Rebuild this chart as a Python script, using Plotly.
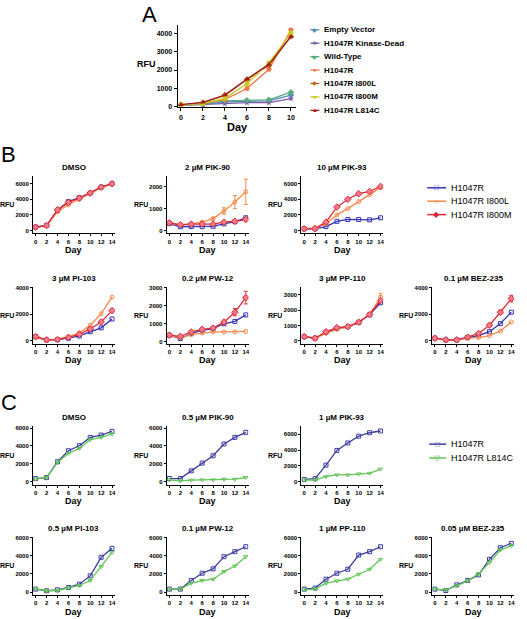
import plotly.graph_objects as go

# ---------------- data ----------------
days_a = [0, 2, 4, 6, 8, 10]
a_names = ["Empty Vector", "H1047R Kinase-Dead", "Wild-Type", "H1047R",
           "H1047R I800L", "H1047R I800M", "H1047R L814C"]
a_empty_vector = [60, 120, 250, 280, 300, 620]
a_kinase_dead = [50, 100, 150, 200, 200, 420]
a_wild_type = [70, 140, 300, 330, 360, 780]
a_h1047r = [80, 170, 380, 980, 2040, 4200]
a_i800l = [80, 200, 620, 1480, 2260, 3850]
a_i800m = [70, 160, 440, 1240, 2400, 4050]
a_l814c = [90, 220, 620, 1510, 2310, 3850]

days = [0, 2, 4, 6, 8, 10, 12, 14]

b_names = ["H1047R", "H1047R I800L", "H1047R I800M"]
b_titles = ["DMSO", "2 µM PIK-90", "10 µM PIK-93", "3 µM PI-103",
            "0.2 µM PW-12", "3 µM PP-110", "0.1 µM BEZ-235"]
b_dmso_h1047r = [450, 650, 2600, 3700, 4200, 4800, 5550, 6000]
b_dmso_i800l = [400, 600, 2400, 3300, 4000, 4750, 5500, 5950]
b_dmso_i800m = [430, 640, 2650, 3600, 4150, 4800, 5550, 6000]
b_pik90_h1047r = [310, 170, 180, 170, 190, 300, 400, 580]
b_pik90_i800l = [340, 240, 300, 380, 540, 890, 1300, 1770]
b_pik90_i800m = [350, 260, 290, 290, 290, 380, 420, 500]
b_pik93_h1047r = [210, 220, 510, 1180, 1420, 1420, 1370, 1630]
b_pik93_i800l = [250, 330, 850, 2000, 2800, 3700, 4600, 5500]
b_pik93_i800m = [220, 250, 1070, 3000, 4000, 4720, 5000, 5650]
b_pi103_h1047r = [320, 60, 90, 200, 370, 690, 980, 1650]
b_pi103_i800l = [250, 50, 130, 320, 610, 1180, 2040, 3310]
b_pi103_i800m = [320, 80, 100, 260, 490, 900, 1420, 2280]
b_pw12_h1047r = [360, 180, 450, 640, 730, 1000, 1130, 1490]
b_pw12_i800l = [360, 220, 400, 490, 545, 545, 550, 580]
b_pw12_i800m = [370, 300, 550, 690, 760, 1090, 1640, 2450]
b_pp110_h1047r = [270, 170, 550, 820, 920, 1200, 1700, 2480]
b_pp110_i800l = [290, 170, 490, 750, 900, 1200, 1750, 2850]
b_pp110_i800m = [280, 170, 600, 860, 930, 1220, 1710, 2630]
b_bez_h1047r = [200, 70, 70, 250, 390, 690, 1300, 2160]
b_bez_i800l = [170, 50, 60, 200, 250, 390, 740, 1420]
b_bez_i800m = [200, 80, 80, 280, 560, 1180, 2160, 3190]
b_pik90_err_i800l = [0, 0, 0, 0, 60, 150, 300, 580]
b_pw12_err_i800m = [0, 0, 0, 0, 0, 100, 200, 350]
b_pp110_err_i800l = [0, 0, 0, 0, 0, 0, 0, 250]
b_bez_err_i800m = [0, 0, 0, 0, 0, 0, 150, 250]

c_names = ["H1047R", "H1047R L814C"]
c_titles = ["DMSO", "0.5 µM PIK-90", "1 µM PIK-93", "0.5 µM PI-103",
            "0.1 µM PW-12", "1 µM PP-110", "0.05 µM BEZ-235"]
c_dmso_h1047r = [370, 480, 2240, 3470, 4030, 4960, 5220, 5630]
c_dmso_l814c = [330, 480, 2200, 3170, 3730, 4700, 4960, 5340]
c_pik90_h1047r = [370, 370, 1230, 2090, 2910, 4220, 4960, 5520]
c_pik90_l814c = [220, 110, 190, 220, 220, 300, 300, 490]
c_pik93_h1047r = [300, 390, 2100, 3950, 4890, 5750, 6180, 6400]
c_pik93_l814c = [210, 210, 640, 860, 860, 990, 1070, 1590]
c_pi103_h1047r = [330, 150, 250, 510, 870, 1780, 3820, 4800]
c_pi103_l814c = [360, 150, 180, 440, 730, 1270, 2800, 4360]
c_pw12_h1047r = [330, 330, 1270, 2070, 2550, 3890, 4440, 4980]
c_pw12_l814c = [330, 330, 980, 1270, 1420, 2250, 2870, 3890]
c_pp110_h1047r = [330, 440, 1420, 2070, 2510, 4070, 4440, 4980]
c_pp110_l814c = [250, 330, 980, 1240, 1420, 1960, 2510, 3600]
c_bez_h1047r = [330, 180, 800, 1270, 1890, 3600, 4870, 5350]
c_bez_l814c = [330, 250, 690, 1240, 2000, 3240, 4620, 5090]

# ---------------- styles ----------------
W, H = 527, 619
FAM = "Liberation Sans, Arial, Helvetica, sans-serif"

a_colors = ["#4f8dbd", "#7b5aa9", "#5aab7c", "#f07444", "#b8661c", "#c6cb22", "#a41a1a"]
a_symbols = ["diamond", "star", "diamond", "circle", "diamond", "circle", "triangle-up"]
a_glyphs = ["◆", "★", "◆", "●", "◆", "●", "▲"]

b_colors = ["#3434b4", "#f58a4b", "#e02a3a"]
b_fill = ["rgba(0,0,0,0)", "rgba(0,0,0,0)", "#f07a86"]
b_symbols = ["square-open", "circle-open", "diamond"]
b_glyphs = ["□", "○", "◆"]

c_colors = ["#3c3c9e", "#62c656"]
c_symbols = ["square-open", "triangle-down-open"]
c_glyphs = ["□", "▽"]


def px(x):
    return x / W


def py(y):
    return 1 - y / H


fig = go.Figure()
layout = dict(width=W, height=H, margin=dict(l=0, r=0, t=0, b=0),
              paper_bgcolor="white", plot_bgcolor="white", showlegend=False,
              font=dict(family=FAM, color="black"))
annotations = []
shapes = []


def ann(text, x, y, size, bold=True, xanchor="center", color="black", yanchor="middle"):
    annotations.append(dict(text=text, x=px(x), y=py(y), xref="paper", yref="paper",
                            showarrow=False, xanchor=xanchor, yanchor=yanchor,
                            font=dict(size=size, family=FAM, color=color,
                                      weight="bold" if bold else "normal")))


def add_axes(n, x0, x1, ytop, ybot, xr, yr, xt, yt, tfs, tl=3):
    xk = "xaxis" if n == 1 else f"xaxis{n}"
    yk = "yaxis" if n == 1 else f"yaxis{n}"
    common = dict(ticks="outside", ticklen=tl, tickwidth=1, tickcolor="black",
                  showline=True, linecolor="black", linewidth=1, showgrid=False,
                  zeroline=False, fixedrange=True,
                  tickfont=dict(size=tfs, family=FAM, color="black", weight="bold"))
    layout[xk] = dict(domain=[px(x0), px(x1)], anchor="y" if n == 1 else f"y{n}",
                      range=xr, tickvals=xt, **common)
    layout[yk] = dict(domain=[py(ybot), py(ytop)], anchor="x" if n == 1 else f"x{n}",
                      range=yr, tickvals=yt, **common)
    return ("x" if n == 1 else f"x{n}"), ("y" if n == 1 else f"y{n}")


# ---------------- panel A ----------------
xa, ya = add_axes(1, 178, 297, 23, 106, [-0.3, 10.5], [-55, 4490],
                  days_a, [0, 1000, 2000, 3000, 4000], 7)
a_values = [a_empty_vector, a_kinase_dead, a_wild_type, a_h1047r, a_i800l, a_i800m, a_l814c]
for name, vals, col, sym in zip(a_names, a_values, a_colors, a_symbols):
    fig.add_trace(go.Scatter(x=days_a, y=vals, name=name, mode="lines+markers",
                             line=dict(color=col, width=1.3),
                             marker=dict(symbol=sym, size=5, color=col),
                             xaxis=xa, yaxis=ya))
ann("A", 150, 13, 22, bold=False)
ann("RFU", 158, 62, 9, xanchor="right")
ann("Day", 238, 126, 11)
for i, (name, col, g) in enumerate(zip(a_names, a_colors, a_glyphs)):
    yy = 28 + 13.5 * i
    shapes.append(dict(type="line", xref="paper", yref="paper", x0=px(311), x1=px(320),
                       y0=py(yy), y1=py(yy), line=dict(color=col, width=1.3)))
    ann(g, 315.5, yy, 6, bold=False, color=col)
    ann(name, 323, yy, 8, xanchor="left")

# ---------------- panels B and C ----------------
cols = [33, 167, 302, 433]
PW = 82
xr = [-0.5, 14.5]


def small_panel(n, col, ytop, ybot, yr, yt, title, series, names, colors, symbols,
                fills=None, errs=None):
    x0 = cols[col]
    xk, yk = add_axes(n, x0, x0 + PW, ytop, ybot, xr, yr, days, yt, 6, tl=2)
    for i, vals in enumerate(series):
        mk = dict(symbol=symbols[i], size=4 if "open" in symbols[i] else 5, color=colors[i],
                  line=dict(color=colors[i], width=1))
        if fills is not None and fills[i] != "rgba(0,0,0,0)":
            mk["color"] = fills[i]
        tr = dict(x=days, y=vals, name=names[i], mode="lines+markers",
                  line=dict(color=colors[i], width=1.3), marker=mk, xaxis=xk, yaxis=yk)
        if errs and errs.get(i) is not None:
            tr["error_y"] = dict(type="data", array=errs[i], visible=True,
                                 color=colors[i], thickness=1, width=2)
        fig.add_trace(go.Scatter(**tr))
    ann(title, x0 + PW / 2, ytop - 8.5, 8)
    ann("RFU", x0 - 17, (ytop + ybot) / 2, 7, xanchor="right")
    ann("Day", x0 + PW / 2, ybot + 9.5, 9, yanchor="top")


t6 = [0, 2000, 4000, 6000]
B1 = (175, 233)
B2 = (287, 344)
small_panel(2, 0, *B1, [-380, 7000], t6, b_titles[0],
            [b_dmso_h1047r, b_dmso_i800l, b_dmso_i800m], b_names, b_colors, b_symbols, b_fill)
small_panel(3, 1, *B1, [-140, 2500], [0, 1000, 2000], b_titles[1],
            [b_pik90_h1047r, b_pik90_i800l, b_pik90_i800m], b_names, b_colors, b_symbols, b_fill,
            {1: b_pik90_err_i800l})
small_panel(4, 2, *B1, [-380, 7000], t6, b_titles[2],
            [b_pik93_h1047r, b_pik93_i800l, b_pik93_i800m], b_names, b_colors, b_symbols, b_fill)
small_panel(5, 0, *B2, [-220, 4050], [0, 2000, 4000], b_titles[3],
            [b_pi103_h1047r, b_pi103_i800l, b_pi103_i800m], b_names, b_colors, b_symbols, b_fill)
small_panel(6, 1, *B2, [-110, 3030], [0, 1000, 2000, 3000], b_titles[4],
            [b_pw12_h1047r, b_pw12_i800l, b_pw12_i800m], b_names, b_colors, b_symbols, b_fill,
            {2: b_pw12_err_i800m})
small_panel(7, 2, *B2, [-190, 3500], [0, 1000, 2000, 3000], b_titles[5],
            [b_pp110_h1047r, b_pp110_i800l, b_pp110_i800m], b_names, b_colors, b_symbols, b_fill,
            {1: b_pp110_err_i800l})
small_panel(8, 3, *B2, [-220, 4050], [0, 2000, 4000], b_titles[6],
            [b_bez_h1047r, b_bez_i800l, b_bez_i800m], b_names, b_colors, b_symbols, b_fill,
            {2: b_bez_err_i800m})
ann("B", 9, 153, 22, bold=False)
for i, (name, col, g) in enumerate(zip(b_names, b_colors, b_glyphs)):
    yy = 187 + 13.5 * i
    shapes.append(dict(type="line", xref="paper", yref="paper", x0=px(428), x1=px(447),
                       y0=py(yy), y1=py(yy), line=dict(color=col, width=1.5)))
    ann(g, 437.5, yy, 8, bold=False, color=col)
    ann(name, 450, yy, 9, bold=False, xanchor="left")

C1 = (427, 486)
C2 = (538, 597)
small_panel(9, 0, *C1, [-330, 6200], t6, c_titles[0],
            [c_dmso_h1047r, c_dmso_l814c], c_names, c_colors, c_symbols)
small_panel(10, 1, *C1, [-330, 6200], t6, c_titles[1],
            [c_pik90_h1047r, c_pik90_l814c], c_names, c_colors, c_symbols)
small_panel(11, 2, *C1, [-390, 7000], t6, c_titles[2],
            [c_pik93_h1047r, c_pik93_l814c], c_names, c_colors, c_symbols)
small_panel(12, 0, *C2, [-330, 6100], t6, c_titles[3],
            [c_pi103_h1047r, c_pi103_l814c], c_names, c_colors, c_symbols)
small_panel(13, 1, *C2, [-330, 6100], t6, c_titles[4],
            [c_pw12_h1047r, c_pw12_l814c], c_names, c_colors, c_symbols)
small_panel(14, 2, *C2, [-330, 6100], t6, c_titles[5],
            [c_pp110_h1047r, c_pp110_l814c], c_names, c_colors, c_symbols)
small_panel(15, 3, *C2, [-330, 6100], t6, c_titles[6],
            [c_bez_h1047r, c_bez_l814c], c_names, c_colors, c_symbols)
ann("C", 9, 403, 22, bold=False)
for i, (name, col, g) in enumerate(zip(c_names, c_colors, c_glyphs)):
    yy = 445 + 14 * i
    shapes.append(dict(type="line", xref="paper", yref="paper", x0=px(430), x1=px(447),
                       y0=py(yy), y1=py(yy), line=dict(color=col, width=1.5)))
    ann(g, 438.5, yy, 8, bold=False, color=col)
    ann(name, 450, yy, 9, bold=False, xanchor="left")

layout["annotations"] = annotations
layout["shapes"] = shapes
fig.update_layout(**layout)
fig.write_html("out.html", config={"displayModeBar": False, "staticPlot": True},
               post_script="document.body.style.margin='0px';"
                           "document.body.style.overflow='hidden';")
